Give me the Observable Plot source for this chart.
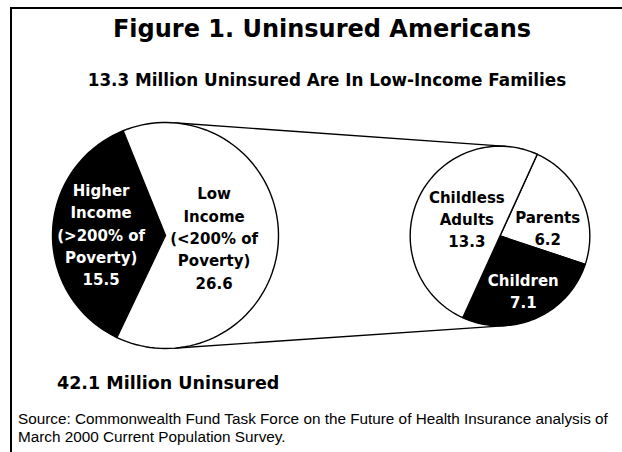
<!DOCTYPE html>
<html><head><meta charset="utf-8">
<script src="https://cdn.jsdelivr.net/npm/d3@7"></script>
<script src="https://cdn.jsdelivr.net/npm/@observablehq/plot@0.6"></script>
<style>
html,body{margin:0;padding:0;background:#fff;}
#wrap{position:relative;width:622px;height:452px;overflow:hidden;}
#frame{position:absolute;left:10px;top:7px;width:700px;height:600px;border-left:2px solid #000;border-top:2px solid #000;}
.t{position:absolute;white-space:nowrap;color:#000;}
.hv{font-family:"DejaVu Sans",sans-serif;font-weight:bold;}
#title{left:0;width:644px;text-align:center;top:16.7px;font-size:24px;line-height:24px;}
#subtitle{left:0;width:654px;text-align:center;top:71.8px;font-size:16.8px;line-height:16.8px;}
#total{left:57px;top:375px;font-size:17.5px;line-height:17.5px;}
#source{left:18px;top:409.5px;font-family:"Liberation Sans",Arial,sans-serif;font-size:15.3px;line-height:18px;}
#chart{position:absolute;left:0;top:0;}
</style></head>
<body><div id="wrap">
<div id="frame"></div>
<div id="chart"></div>
<div id="title" class="t hv">Figure 1. Uninsured Americans</div>
<div id="subtitle" class="t hv">13.3 Million Uninsured Are In Low-Income Families</div>
<div id="total" class="t hv">42.1 Million Uninsured</div>
<div id="source" class="t">Source: Commonwealth Fund Task Force on the Future of Health Insurance analysis of<br>March 2000 Current Population Survey.</div>
</div>
<script>
// ---- data ----
const outerNames = ["Higher\nIncome\n(>200% of\nPoverty)", "Low\nIncome\n(<200% of\nPoverty)"];
const outerValues = [15.5, 26.6];
const innerNames = ["Parents", "Children", "Childless\nAdults"];
const innerValues = [6.2, 7.1, 13.3];

// ---- layout / style ----
const W = 622, H = 452;
const outerColors = ["black", "white"];
const innerColors = ["white", "black", "white"];
const c1 = [165, 235], r1 = 113;
const c2 = [499.5, 235.5];
const r2 = r1 * Math.sqrt(d3.sum(innerValues) / d3.sum(outerValues));
const outerStart = 205.45, innerStart = 24.5; // degrees clockwise from 12 o'clock
const outerLabelR = [0.57, 0.43], outerLabelDA = [0, 0];
const innerLabelR = [0.54, 0.65, 0.42], innerLabelDA = [13, 0, 4];
const rad = Math.PI / 180;

function pt(c, r, a) { return [c[0] + r * Math.sin(a), c[1] - r * Math.cos(a)]; }

function build(names, values, colors, c, r, start, labR, labDA, tag) {
  const arcs = d3.pie().sort(null).startAngle(start * rad).endAngle(start * rad + 2 * Math.PI)(values);
  const rows = [], labels = [];
  arcs.forEach((a, i) => {
    const key = tag + i;
    rows.push({key, x: c[0], y: c[1], color: colors[i]});
    const n = 90;
    for (let k = 0; k <= n; k++) {
      const ang = a.startAngle + (a.endAngle - a.startAngle) * k / n;
      const p = pt(c, r, ang);
      rows.push({key, x: p[0], y: p[1], color: colors[i]});
    }
    rows.push({key, x: c[0], y: c[1], color: colors[i]});
    const mid = (a.startAngle + a.endAngle) / 2 + labDA[i] * rad;
    const lp = pt(c, r * labR[i], mid);
    labels.push({x: lp[0], y: lp[1], text: names[i] + "\n" + values[i].toFixed(1),
                 fill: colors[i] === "black" ? "white" : "black"});
  });
  return {rows, labels};
}

const outer = build(outerNames, outerValues, outerColors, c1, r1, outerStart, outerLabelR, outerLabelDA, "o");
const inner = build(innerNames, innerValues, innerColors, c2, r2, innerStart, innerLabelR, innerLabelDA, "i");

// external tangent lines connecting the two pies
const dx = c2[0] - c1[0], dy = c2[1] - c1[1], d = Math.hypot(dx, dy);
const base = Math.atan2(dy, dx), phi = Math.acos((r1 - r2) / d);
const tangents = [-1, 1].map(s => {
  const t = base + s * phi;
  const n = [Math.cos(t), Math.sin(t)];
  return {x1: c1[0] + r1 * n[0], y1: c1[1] + r1 * n[1], x2: c2[0] + r2 * n[0], y2: c2[1] + r2 * n[1]};
});

const plot = Plot.plot({
  width: W, height: H,
  margin: 0,
  x: {domain: [0, W], range: [0, W], axis: null},
  y: {domain: [0, H], range: [0, H], axis: null},
  color: {type: "identity"},
  style: {background: "transparent"},
  marks: [
    Plot.link(tangents, {x1: "x1", y1: "y1", x2: "x2", y2: "y2", stroke: "black", strokeWidth: 1.4}),
    Plot.line(outer.rows, {x: "x", y: "y", z: "key", fill: "color", stroke: "black", strokeWidth: 1.4, curve: "linear", strokeLinejoin: "round"}),
    Plot.line(inner.rows, {x: "x", y: "y", z: "key", fill: "color", stroke: "black", strokeWidth: 1.4, curve: "linear", strokeLinejoin: "round"}),
    Plot.text(outer.labels.concat(inner.labels), {x: "x", y: "y", text: "text", fill: "fill",
      fontFamily: "DejaVu Sans", fontWeight: "bold", fontSize: 15, lineHeight: 1.49})
  ]
});
document.getElementById("chart").appendChild(plot);
</script>
</body></html>
